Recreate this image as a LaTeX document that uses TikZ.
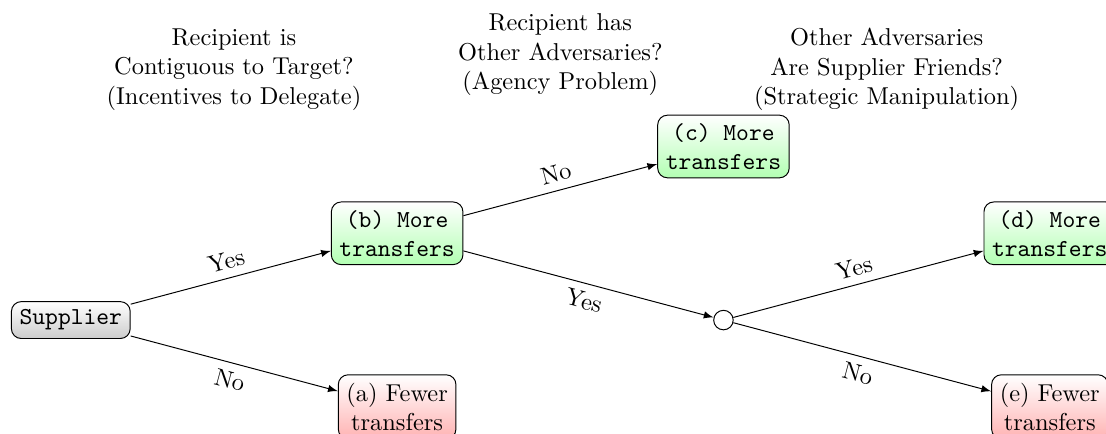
\documentclass[tikz,border=0pt]{standalone}
\usepackage{tikz}
\usetikzlibrary{arrows}
\usetikzlibrary{positioning}
\tikzset{
    leaf/.style={
           rectangle,
           rounded corners,
           draw=black,
           align=center,
           top color=white,
           },
    more/.style={leaf, bottom color=green!30, font=\ttfamily},
    fewer/.style={leaf, bottom color=red!30},
    chance/.style={circle, draw=black, fill=white,
           minimum size=8pt, inner sep=0pt},
    question/.style={align=center},
}

\begin{document}
\begin{tikzpicture}[->,>=latex]

 % frame of the picture (boxes on the right and bottom are cut)
 \useasboundingbox (-1.02,-1.64) rectangle (14.91,4.61);
 \clip (-1.02,-1.64) rectangle (14.91,4.61);

 % Root
 \node[leaf, bottom color=gray!40, font=\ttfamily] (SUP) {Supplier};

 % First split
 \node[more, on grid, above right=1.25cm and 4.7cm of SUP] (B)
 {(b) More\\transfers};
 \node[fewer, on grid, below right=1.25cm and 4.7cm of SUP] (A)
 {(a) Fewer\\transfers};

 % Second split
 \node[more, on grid, above right=1.25cm and 4.7cm of B] (C)
 {(c) More\\transfers};
 \node[chance, on grid, below right=1.25cm and 4.7cm of B] (Q) {};

 % Third split
 \node[more, on grid, above right=1.25cm and 4.7cm of Q] (D)
 {(d) More\\transfers};
 \node[fewer, on grid, below right=1.25cm and 4.7cm of Q] (E)
 {(e) Fewer\\transfers};

 % questions on top
 \node[question] (Q1) at (2.35,3.61)
 {Recipient is\\Contiguous to Target?\\(Incentives to Delegate)};
 \node[question] (Q2) at (7.05,3.82)
 {Recipient has\\Other Adversaries?\\(Agency Problem)};
 \node[question] (Q3) at (11.75,3.61)
 {Other Adversaries\\Are Supplier Friends?\\(Strategic Manipulation)};

 % branches
 \path (SUP) edge node[above, sloped] {Yes} (B)
       (SUP) edge node[below, sloped] {No}  (A)
       (B)   edge node[above, sloped] {No}  (C)
       (B)   edge node[below, sloped] {Yes} (Q)
       (Q)   edge node[above, sloped] {Yes} (D)
       (Q)   edge node[below, sloped] {No}  (E)
 ;
\end{tikzpicture}
\end{document}
